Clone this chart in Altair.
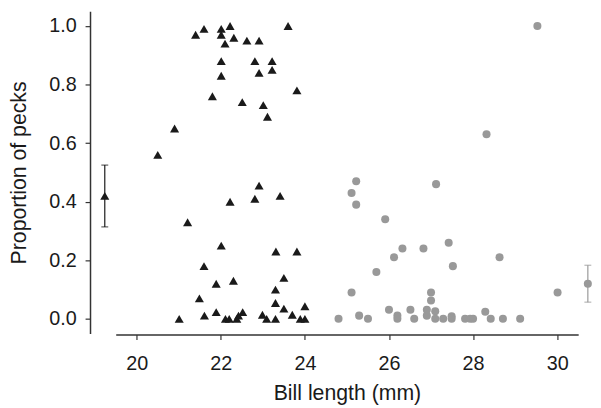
import altair as alt
import pandas as pd

# Triangles (black group)
tri_x = [21.60, 21.40, 22.01, 22.01, 22.22, 22.31, 22.10, 22.62, 22.91, 23.60,
         22.01, 22.81, 23.22, 22.91, 23.22, 22.01, 23.81, 21.80, 22.51, 23.01,
         23.11, 20.90, 20.50,
         22.91, 23.41, 22.81, 22.22, 21.21, 22.01, 23.31, 23.81, 21.60, 23.50,
         21.89, 22.30, 23.30, 21.49, 23.30, 24.00, 23.50, 21.89, 22.52, 21.61,
         22.42, 22.99, 23.70, 21.01, 22.11, 22.20, 22.38, 23.09, 23.30, 23.89,
         24.00]
tri_y = [0.99, 0.97, 0.99, 0.97, 1.00, 0.96, 0.94, 0.95, 0.95, 1.00,
         0.88, 0.88, 0.88, 0.84, 0.85, 0.83, 0.78, 0.76, 0.74, 0.73,
         0.69, 0.65, 0.56,
         0.455, 0.42, 0.41, 0.40, 0.33, 0.25, 0.23, 0.23, 0.18, 0.14,
         0.12, 0.13, 0.10, 0.07, 0.054, 0.043, 0.035, 0.023, 0.023, 0.011,
         0.011, 0.014, 0.014, 0.0, 0.0, 0.0, 0.0, 0.0, 0.0, 0.0,
         0.0]

# Circles (grey group)
circ_x = [29.53, 28.32, 25.22, 25.11, 25.22, 27.12, 25.91, 27.42, 26.32, 26.82,
          26.12, 28.63, 27.52, 25.70, 25.11, 27.00, 30.01, 27.00, 26.00, 26.51,
          26.90, 27.10, 28.29, 25.29, 26.20, 26.90, 27.49, 24.80, 25.50, 26.20,
          26.60, 27.10, 27.29, 27.49, 27.81, 27.93, 28.00, 28.42, 28.71, 29.12]
circ_y = [1.00, 0.63, 0.47, 0.43, 0.39, 0.46, 0.34, 0.26, 0.24, 0.24,
          0.21, 0.21, 0.18, 0.16, 0.09, 0.09, 0.09, 0.063, 0.031, 0.031,
          0.031, 0.026, 0.024, 0.011, 0.011, 0.011, 0.009, 0.0, 0.0, 0.0,
          0.0, 0.0, 0.0, 0.0, 0.0, 0.0, 0.0, 0.0, 0.0, 0.0]

# Group means with error bars
mean_x = [19.24, 30.73]
mean_y = [0.42, 0.12]
mean_lo = [0.314, 0.057]
mean_hi = [0.525, 0.183]
mean_colors = ["#1a1a1a", "#999999"]

x_ticks = [20, 22, 24, 26, 28, 30]
y_ticks = [0.0, 0.2, 0.4, 0.6, 0.8, 1.0]
x_domain = [19.5, 30.5]
y_domain = [-0.05, 1.05]

BLACK = "#1a1a1a"
GREY = "#999999"
AX = "#333333"
FONT = "Liberation Sans"

tri_df = pd.DataFrame({"x": tri_x, "y": tri_y})
circ_df = pd.DataFrame({"x": circ_x, "y": circ_y})
mean_df = pd.DataFrame({"x": mean_x, "y": mean_y, "lo": mean_lo, "hi": mean_hi,
                        "c": mean_colors})

xs = alt.Scale(domain=x_domain, nice=False, zero=False)
ys = alt.Scale(domain=y_domain, nice=False, zero=False)

x_enc = alt.X("x:Q", scale=xs, title="Bill length (mm)",
              axis=alt.Axis(values=x_ticks, format="d", offset=1, tickSize=5,
                            labelPadding=14, titlePadding=10, grid=False))
y_enc = alt.Y("y:Q", scale=ys, title="Proportion of pecks",
              axis=alt.Axis(values=y_ticks, format=".1f", offset=26, tickSize=5,
                            labelPadding=9, titlePadding=18, grid=False))

tri = alt.Chart(tri_df).mark_point(shape="triangle-up", filled=True, size=84,
                                   color=BLACK, opacity=1).encode(x=x_enc, y=y_enc)
circ = alt.Chart(circ_df).mark_circle(size=66, color=GREY, opacity=1).encode(
    x=alt.X("x:Q", scale=xs), y=alt.Y("y:Q", scale=ys))

bars = alt.Chart(mean_df).mark_rule(strokeWidth=1.2).encode(
    x=alt.X("x:Q", scale=xs), y=alt.Y("lo:Q", scale=ys), y2="hi:Q",
    color=alt.Color("c:N", scale=None))
cap_lo = alt.Chart(mean_df).mark_tick(orient="horizontal", size=7, thickness=1.2).encode(
    x=alt.X("x:Q", scale=xs), y=alt.Y("lo:Q", scale=ys),
    color=alt.Color("c:N", scale=None))
cap_hi = alt.Chart(mean_df).mark_tick(orient="horizontal", size=7, thickness=1.2).encode(
    x=alt.X("x:Q", scale=xs), y=alt.Y("hi:Q", scale=ys),
    color=alt.Color("c:N", scale=None))
mean_tri = alt.Chart(mean_df.iloc[[0]]).mark_point(shape="triangle-up", filled=True,
                                                    size=84, color=BLACK, opacity=1).encode(
    x=alt.X("x:Q", scale=xs), y=alt.Y("y:Q", scale=ys))
mean_circ = alt.Chart(mean_df.iloc[[1]]).mark_circle(size=66, color=GREY, opacity=1).encode(
    x=alt.X("x:Q", scale=xs), y=alt.Y("y:Q", scale=ys))

chart = alt.layer(tri, circ, bars, cap_lo, cap_hi, mean_tri, mean_circ).properties(
    width=468, height=326,
    autosize=alt.AutoSizeParams(type="none"),
    padding={"left": 109, "top": 1, "right": 15, "bottom": 72},
).configure_view(stroke=None).configure_axis(
    domainColor=AX, domainWidth=1.5, tickColor=AX, tickWidth=1.2,
    labelFont=FONT, labelFontSize=20, labelColor="#1a1a1a",
    titleFont=FONT, titleFontSize=21.5, titleFontWeight="normal", titleColor="#1a1a1a",
)

chart.save("out.html", embed_options={"renderer": "svg", "actions": False})
